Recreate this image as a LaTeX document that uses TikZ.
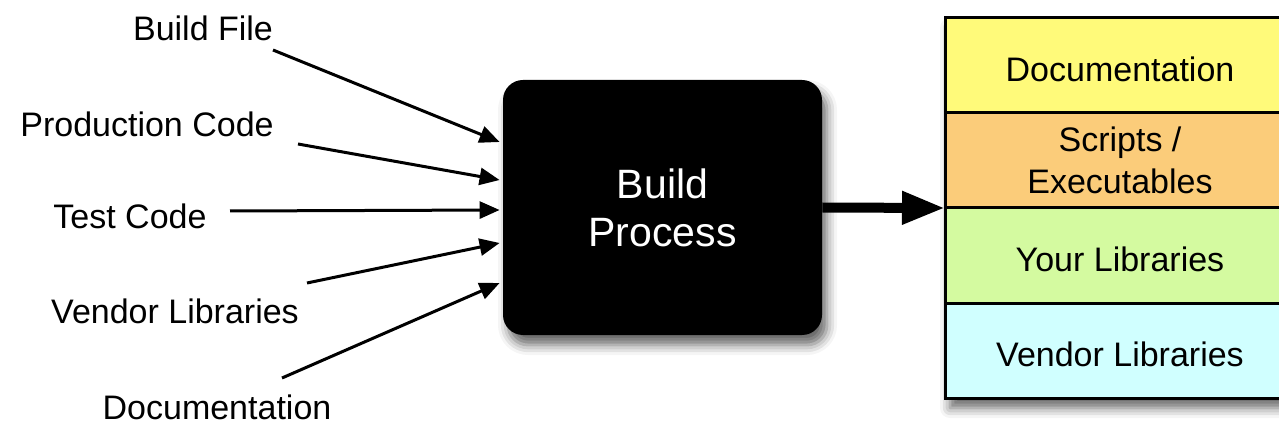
\documentclass[tikz,border=0pt]{standalone}
\usepackage{fontspec}
\setmainfont{Liberation Sans}
\usepackage{tikz}
\usetikzlibrary{calc,positioning,fit,backgrounds}
\usetikzlibrary{arrows.meta}
\usetikzlibrary{shadows.blur}
\definecolor{docy}{HTML}{FFFA7A}
\definecolor{scro}{HTML}{FBCC7A}
\definecolor{ylig}{HTML}{D4FAA0}
\definecolor{vlib}{HTML}{D0FFFF}
\tikzset{lbl/.style={inner sep=0pt,font=\fontsize{17}{20}\selectfont},
lyr/.style={draw,line width=1.5pt,rectangle,minimum width=175pt,minimum
height=47.5pt,inner sep=0pt,outer sep=0pt,align=center,font=\fontsize{17}{21}\selectfont},
one/.style={text height=16pt,text depth=0pt},
inarr/.style={line width=1.5pt,-{Triangle[length=10pt,width=8.5pt]}},
shd/.style={blur shadow={shadow xshift=2.5pt,shadow yshift=-5pt,shadow blur radius=5pt,shadow opacity=60}}}

\begin{document}
\begin{tikzpicture}[x=0.5pt,y=-0.5pt]
		\useasboundingbox (0,0) rectangle (1279,427);
		\node[fill=black,rounded corners=10pt,shd,minimum width=159.5pt,minimum height=127.5pt,inner sep=0pt,
			text=white,align=center,font=\fontsize{20.5}{24}\selectfont](bp) at(662.5,207.5){Build\\Process};
		% output layers
		\node[lyr,one,fill=docy](r1) at(1120,65.5){Documentation};
		\node[lyr,fill=scro,below=0pt of r1](r2){Scripts /\\Executables};
		\node[lyr,one,fill=ylig,below=0pt of r2](r3){Your Libraries};
		\node[lyr,one,fill=vlib,below=0pt of r3](r4){Vendor Libraries};
		\begin{scope}[on background layer]
			\node[fit=(r1)(r4),inner sep=0pt,fill=white,shd](stk){};
		\end{scope}
		\draw[line width=5pt,-{Triangle[length=21.5pt,width=15.5pt]}] (bp.east) -- (r2.south west);
		% inputs
		\foreach \t/\lx/\ly/\sx/\sy/\ey[count=\i] in {
				Build File/203/28/273/50/142,
				Production Code/147/124/298/144/180,
				Test Code/130/216/230/211/210,
				Vendor Libraries/175/311/307/283/243,
				Documentation/217/407/282/378/283
			}{
			\node[lbl](in\i) at(\lx,\ly){\t};
			\coordinate (s\i) at(\sx,\sy);
			\path (bp.west) ++(-3,\ey-207.5) coordinate (e\i);
			\draw[inarr] (s\i) -- (e\i);
		}
	\end{tikzpicture}
\end{document}
